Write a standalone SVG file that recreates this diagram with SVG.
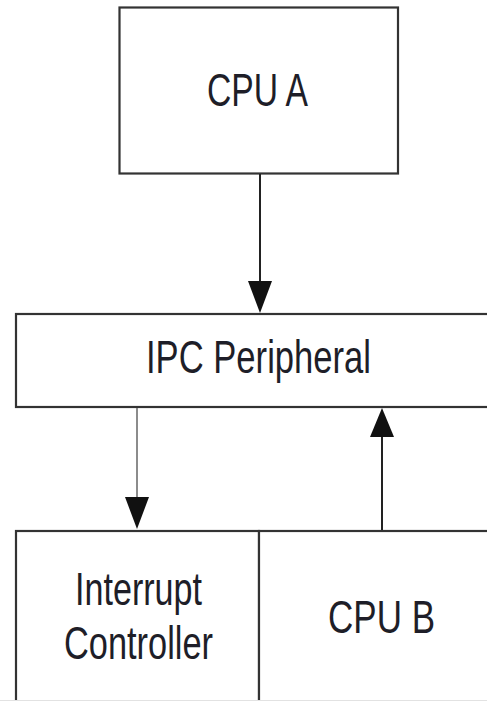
<svg xmlns="http://www.w3.org/2000/svg" width="487" height="701" viewBox="0 0 487 701">
<style>
.box{fill:#fff;stroke:#333;stroke-width:2.2}
.lbl{font-family:"Liberation Sans",Arial,sans-serif;font-size:46px;fill:#1e1e28;text-anchor:middle}
.ln{stroke:#222;stroke-width:2;fill:none}
.thin{stroke:#666;stroke-width:1.5;fill:none}
.head{fill:#111;stroke:none}
</style>
<rect width="487" height="701" fill="#fff"/>
<g id="cpu-a">
<rect class="box" x="119.5" y="7.5" width="278.5" height="166"/>
<text class="lbl" x="257.5" y="106" textLength="101" lengthAdjust="spacingAndGlyphs">CPU A</text>
</g>
<g id="ipc-peripheral">
<rect class="box" x="16" y="314" width="480" height="93"/>
<text class="lbl" x="258.5" y="372.5" textLength="225" lengthAdjust="spacingAndGlyphs">IPC Peripheral</text>
</g>
<g id="interrupt-controller">
<rect class="box" x="16" y="531" width="243" height="180"/>
<text class="lbl" x="138.5" y="605" textLength="127" lengthAdjust="spacingAndGlyphs">Interrupt</text>
<text class="lbl" x="138.5" y="659" textLength="149" lengthAdjust="spacingAndGlyphs">Controller</text>
</g>
<g id="cpu-b">
<rect class="box" x="259" y="531" width="240" height="180"/>
<text class="lbl" x="381.5" y="632.5" textLength="107" lengthAdjust="spacingAndGlyphs">CPU B</text>
</g>
<line x1="0" y1="700.5" x2="487" y2="700.5" stroke="#e2e2e2" stroke-width="1"/>
<g id="connectors">
<line class="ln" x1="260" y1="174" x2="260" y2="284"/>
<polygon class="head" points="248,281 272,281 260,313"/>
<line class="thin" x1="137" y1="408" x2="137" y2="500"/>
<polygon class="head" points="125,497 149,497 137,529"/>
<line class="ln" x1="382" y1="530" x2="382" y2="434"/>
<polygon class="head" points="370,437 394,437 382,408"/>
</g>
</svg>
